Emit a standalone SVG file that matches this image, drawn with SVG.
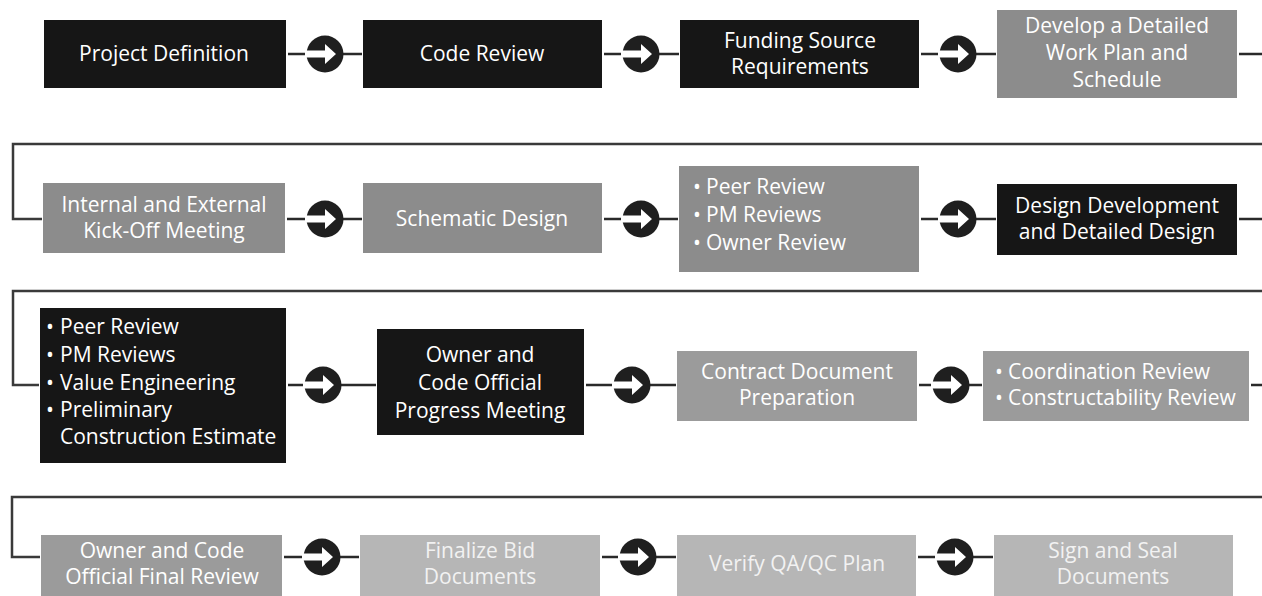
<svg xmlns="http://www.w3.org/2000/svg" width="1262" height="596" viewBox="0 0 1262 596">
<style>
.dk{fill:#161616}
.g1{fill:#8c8c8c}
.g2{fill:#9b9b9b}
.g3{fill:#b6b6b6}
.t{font-family:"Open Sans","Noto Sans",sans-serif;font-size:21px;fill:#ffffff}
.tl{font-family:"Open Sans","Noto Sans",sans-serif;font-size:21px;fill:#f2f2f2}
.c{text-anchor:middle}
.ln{stroke:#2a2a2a;stroke-width:2.5;fill:none}
.lp{stroke:#3a3a3a;stroke-width:2.5;fill:none}
</style>
<defs>
<g id="arr">
<circle r="18.5" fill="#1f1f1f"/>
<path d="M-20,-3.5 H0 V-10 L11,0 L0,10 V3.5 H-20 Z" fill="#ffffff"/>
</g>
</defs>
<rect width="1262" height="596" fill="#ffffff"/>

<g id="connectors">
<path class="ln" d="M288,54 H362 M604,54 H679 M921,54 H996 M1239,54 H1262"/>
<use href="#arr" x="325" y="54"/>
<use href="#arr" x="641" y="54"/>
<use href="#arr" x="958" y="54"/>
<path class="lp" d="M1262,144 H13 V219 H42"/>
<path class="ln" d="M287,219 H362 M604,219 H678 M921,219 H996 M1239,219 H1262"/>
<use href="#arr" x="325" y="219"/>
<use href="#arr" x="641" y="219"/>
<use href="#arr" x="958" y="219"/>
<path class="lp" d="M1262,291 H13 V385 H39"/>
<path class="ln" d="M288,385 H376 M586,385 H676 M919,385 H982 M1251,385 H1262"/>
<use href="#arr" x="323" y="385"/>
<use href="#arr" x="632" y="385"/>
<use href="#arr" x="951" y="385"/>
<path class="lp" d="M1262,497 H12 V557 H40"/>
<path class="ln" d="M284,557 H359 M602,557 H676 M918,557 H993"/>
<use href="#arr" x="322" y="557"/>
<use href="#arr" x="638" y="557"/>
<use href="#arr" x="955" y="557"/>
</g>

<g id="n1"><rect class="dk" x="44" y="20" width="242" height="68"/>
<text class="t c" x="164" y="61">Project Definition</text></g>
<g id="n2"><rect class="dk" x="363" y="20" width="239" height="68"/>
<text class="t c" x="482" y="61">Code Review</text></g>
<g id="n3"><rect class="dk" x="680" y="20" width="239" height="68"/>
<text class="t c" x="800" y="48">Funding Source</text>
<text class="t c" x="800" y="74">Requirements</text></g>
<g id="n4"><rect class="g1" x="997" y="10" width="240" height="88"/>
<text class="t c" x="1117" y="33">Develop a Detailed</text>
<text class="t c" x="1117" y="60">Work Plan and</text>
<text class="t c" x="1117" y="87">Schedule</text></g>

<g id="n5"><rect class="g1" x="43" y="183" width="242" height="70"/>
<text class="t c" x="164" y="212">Internal and External</text>
<text class="t c" x="164" y="238">Kick-Off Meeting</text></g>
<g id="n6"><rect class="g1" x="363" y="183" width="239" height="70"/>
<text class="t c" x="482" y="226">Schematic Design</text></g>
<g id="n7"><rect class="g1" x="679" y="166" width="240" height="106"/>
<text class="t" x="693" y="194">•</text><text class="t" x="706" y="194">Peer Review</text>
<text class="t" x="693" y="222">•</text><text class="t" x="706" y="222">PM Reviews</text>
<text class="t" x="693" y="250">•</text><text class="t" x="706" y="250">Owner Review</text></g>
<g id="n8"><rect class="dk" x="997" y="184" width="240" height="71"/>
<text class="t c" x="1117" y="213">Design Development</text>
<text class="t c" x="1117" y="239">and Detailed Design</text></g>

<g id="n9"><rect class="dk" x="40" y="308" width="246" height="155"/>
<text class="t" x="46" y="334">•</text><text class="t" x="60" y="334">Peer Review</text>
<text class="t" x="46" y="362">•</text><text class="t" x="60" y="362">PM Reviews</text>
<text class="t" x="46" y="390">•</text><text class="t" x="60" y="390">Value Engineering</text>
<text class="t" x="46" y="417">•</text><text class="t" x="60" y="417">Preliminary</text>
<text class="t" x="60" y="444">Construction Estimate</text></g>
<g id="n10"><rect class="dk" x="377" y="329" width="207" height="106"/>
<text class="t c" x="480" y="362">Owner and</text>
<text class="t c" x="480" y="390">Code Official</text>
<text class="t c" x="480" y="418">Progress Meeting</text></g>
<g id="n11"><rect class="g2" x="677" y="351" width="240" height="70"/>
<text class="t c" x="797" y="379">Contract Document</text>
<text class="t c" x="797" y="405">Preparation</text></g>
<g id="n12"><rect class="g2" x="983" y="351" width="266" height="70"/>
<text class="t" x="995" y="379">•</text><text class="t" x="1008" y="379">Coordination Review</text>
<text class="t" x="995" y="405">•</text><text class="t" x="1008" y="405">Constructability Review</text></g>

<g id="n13"><rect class="g2" x="41" y="535" width="241" height="65"/>
<text class="t c" x="162" y="558">Owner and Code</text>
<text class="t c" x="162" y="584">Official Final Review</text></g>
<g id="n14"><rect class="g3" x="360" y="535" width="240" height="65"/>
<text class="tl c" x="480" y="558">Finalize Bid</text>
<text class="tl c" x="480" y="584">Documents</text></g>
<g id="n15"><rect class="g3" x="677" y="535" width="239" height="65"/>
<text class="tl c" x="797" y="571">Verify QA/QC Plan</text></g>
<g id="n16"><rect class="g3" x="994" y="535" width="239" height="65"/>
<text class="tl c" x="1113" y="558">Sign and Seal</text>
<text class="tl c" x="1113" y="584">Documents</text></g>
</svg>
